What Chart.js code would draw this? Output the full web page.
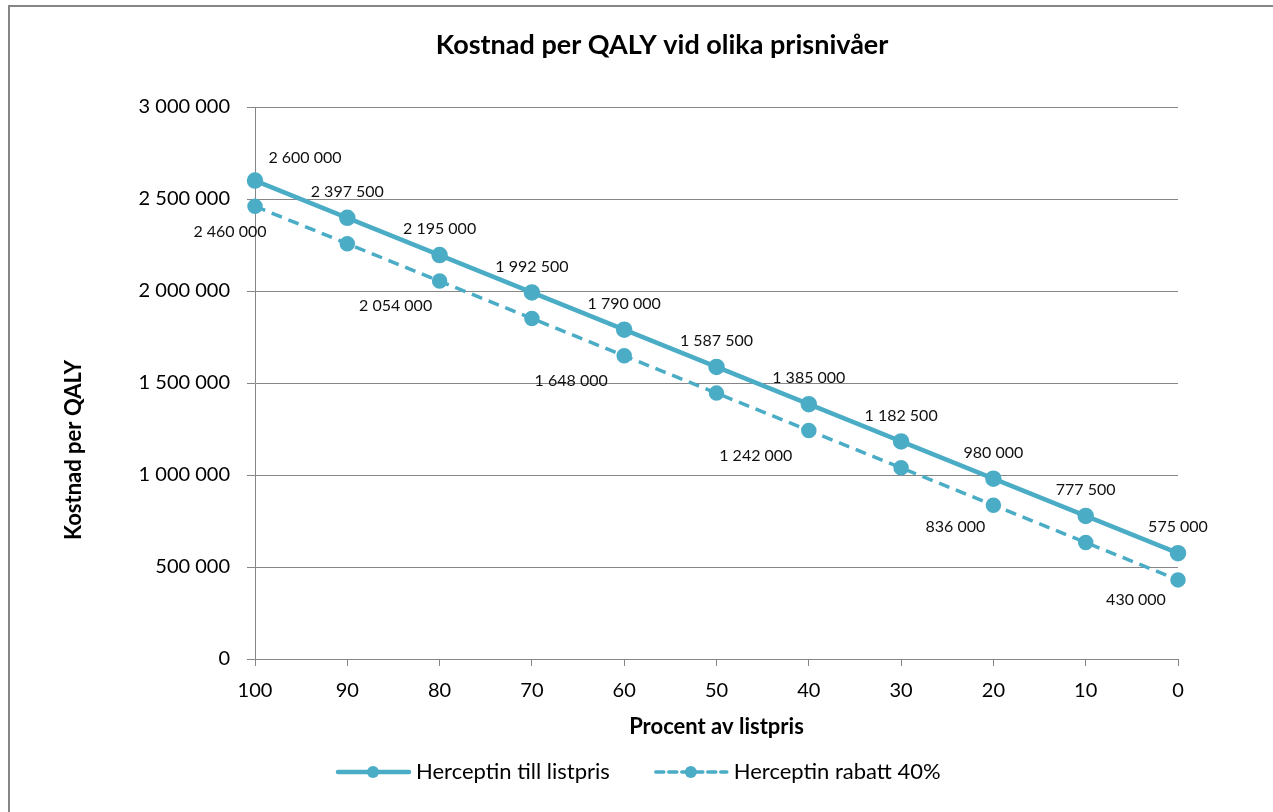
<!DOCTYPE html>
<html>
<head>
<meta charset="utf-8">
<script src="https://cdn.jsdelivr.net/npm/chart.js@4"></script>
<style>
    html, body { margin: 0; padding: 0; background: #fff; overflow: hidden; }
    #frame { position: absolute; left: 8px; top: 5px; width: 1300px; height: 840px; border: 2px solid #868686; }
    #chart { position: absolute; left: 0; top: 0; }
</style>
</head>
<body>
<div id="frame"></div>
<canvas id="chart" width="1273" height="812"></canvas>
<script>
// Chart data
const percentLabels = ['100', '90', '80', '70', '60', '50', '40', '30', '20', '10', '0'];
const listprisValues = [2600000, 2397500, 2195000, 1992500, 1790000, 1587500, 1385000, 1182500, 980000, 777500, 575000];
const rabattValues = [2460000, 2257000, 2054000, 1851000, 1648000, 1445000, 1242000, 1039000, 836000, 633000, 430000];
// which points of the discount series carry a value label
const rabattLabelShown = [true, false, true, false, true, false, true, false, true, false, true];
const seriesNames = ['Herceptin till listpris', 'Herceptin rabatt 40%'];
const yMin = 0;
const yMax = 3000000;
const yStep = 500000;

const chartTitle = 'Kostnad per QALY vid olika prisnivåer';
const xTitle = 'Procent av listpris';
const yTitle = 'Kostnad per QALY';

const lineColor = '#4BACC6';
const gridColor = '#868686';
const fontFamily = 'Lato, "Open Sans", sans-serif';

function fmt(v) {
    return String(v).replace(/\B(?=(\d{3})+(?!\d))/g, ' ');
}

// label placement (offset from the point, px)
const listLabelOffset = (i) => i === 0 ? { dx: 50, dy: -23 } : { dx: 0, dy: -26 };
const rabattLabelDx = [-25, 0, -44, 0, -53, 0, -53, 0, -38, 0, -42];
const rabattLabelDy = [25, 0, 25, 0, 25, 0, 25, 0, 22, 0, 20];

// draws the value labels next to the points
const valueLabels = {
    id: 'valueLabels',
    afterDatasetsDraw(chart) {
        const ctx = chart.ctx;
        ctx.save();
        ctx.font = '16px ' + fontFamily;
        ctx.fillStyle = '#111';
        ctx.textAlign = 'center';
        ctx.textBaseline = 'middle';
        chart.getDatasetMeta(0).data.forEach((pt, i) => {
            const o = listLabelOffset(i);
            ctx.fillText(fmt(listprisValues[i]), pt.x + o.dx, pt.y + o.dy);
        });
        chart.getDatasetMeta(1).data.forEach((pt, i) => {
            if (!rabattLabelShown[i]) return;
            ctx.fillText(fmt(rabattValues[i]), pt.x + rabattLabelDx[i], pt.y + rabattLabelDy[i]);
        });
        ctx.restore();
    }
};

// title, y title and legend drawn by hand (Excel-like placement)
const titleAndLegend = {
    id: 'titleAndLegend',
    afterDraw(chart) {
        const ctx = chart.ctx;
        ctx.save();
        ctx.fillStyle = '#000';
        ctx.textBaseline = 'middle';
        ctx.textAlign = 'center';
        ctx.font = 'bold 27px ' + fontFamily;
        ctx.fillText(chartTitle, 662, 45);

        // rotated y axis title
        ctx.save();
        ctx.translate(74, 450);
        ctx.rotate(-Math.PI / 2);
        ctx.font = 'bold 22px ' + fontFamily;
        ctx.fillText(yTitle, 0, 0);
        ctx.restore();

        // legend
        ctx.font = '22px ' + fontFamily;
        ctx.textAlign = 'left';
        let x = 338;
        const y = 772;
        chart.data.datasets.forEach((ds) => {
            ctx.strokeStyle = ds.borderColor;
            ctx.lineWidth = ds.borderWidth;
            ctx.setLineDash(ds.borderDash ? [8, 5] : []);
            ctx.lineCap = 'round';
            ctx.beginPath();
            ctx.moveTo(x, y);
            ctx.lineTo(x + 71, y);
            ctx.stroke();
            ctx.setLineDash([]);
            ctx.fillStyle = ds.pointBackgroundColor;
            ctx.beginPath();
            ctx.arc(x + 35, y, 6, 0, Math.PI * 2);
            ctx.fill();
            ctx.fillStyle = '#000';
            ctx.fillText(ds.label, x + 78, y);
            x += 78 + ctx.measureText(ds.label).width + 46;
        });
        ctx.restore();
    }
};

const ctx = document.getElementById('chart').getContext('2d');
new Chart(ctx, {
    type: 'line',
    data: {
        labels: percentLabels,
        datasets: [{
            label: seriesNames[0],
            data: listprisValues,
            borderColor: lineColor,
            backgroundColor: lineColor,
            pointBackgroundColor: lineColor,
            pointBorderColor: lineColor,
            borderWidth: 4.5,
            pointRadius: 6,
            tension: 0,
            clip: false
        }, {
            label: seriesNames[1],
            data: rabattValues,
            borderColor: lineColor,
            backgroundColor: lineColor,
            pointBackgroundColor: lineColor,
            pointBorderColor: lineColor,
            borderWidth: 3.5,
            borderDash: [11, 7],
            pointRadius: 6,
            tension: 0,
            clip: false
        }]
    },
    options: {
        responsive: false,
        animation: false,
        layout: {
            padding: { left: 0, top: 107, right: 95, bottom: 0 }
        },
        plugins: {
            legend: { display: false },
            title: { display: false },
            tooltip: { enabled: false }
        },
        scales: {
            x: {
                type: 'category',
                offset: false,
                afterFit: function(scale) { scale.height = 153; },
                grid: {
                    drawOnChartArea: false,
                    drawTicks: true,
                    tickLength: 7,
                    color: gridColor,
                    lineWidth: 1
                },
                border: { color: gridColor, width: 1 },
                ticks: {
                    color: '#000',
                    padding: 13,
                    maxRotation: 0,
                    autoSkip: false,
                    font: { family: fontFamily, size: 20 }
                },
                title: {
                    display: true,
                    text: xTitle,
                    color: '#000',
                    font: { family: fontFamily, size: 22, weight: 'bold' },
                    padding: { top: 0, bottom: 72 }
                }
            },
            y: {
                min: yMin,
                max: yMax,
                afterFit: function(scale) { scale.width = 255; },
                grid: {
                    color: gridColor,
                    lineWidth: 1,
                    tickLength: 8
                },
                border: { color: gridColor, width: 1 },
                ticks: {
                    stepSize: yStep,
                    color: '#000',
                    padding: 17,
                    font: { family: fontFamily, size: 20 },
                    callback: function(value) { return fmt(value); }
                }
            }
        }
    },
    plugins: [valueLabels, titleAndLegend]
});
</script>
</body>
</html>
